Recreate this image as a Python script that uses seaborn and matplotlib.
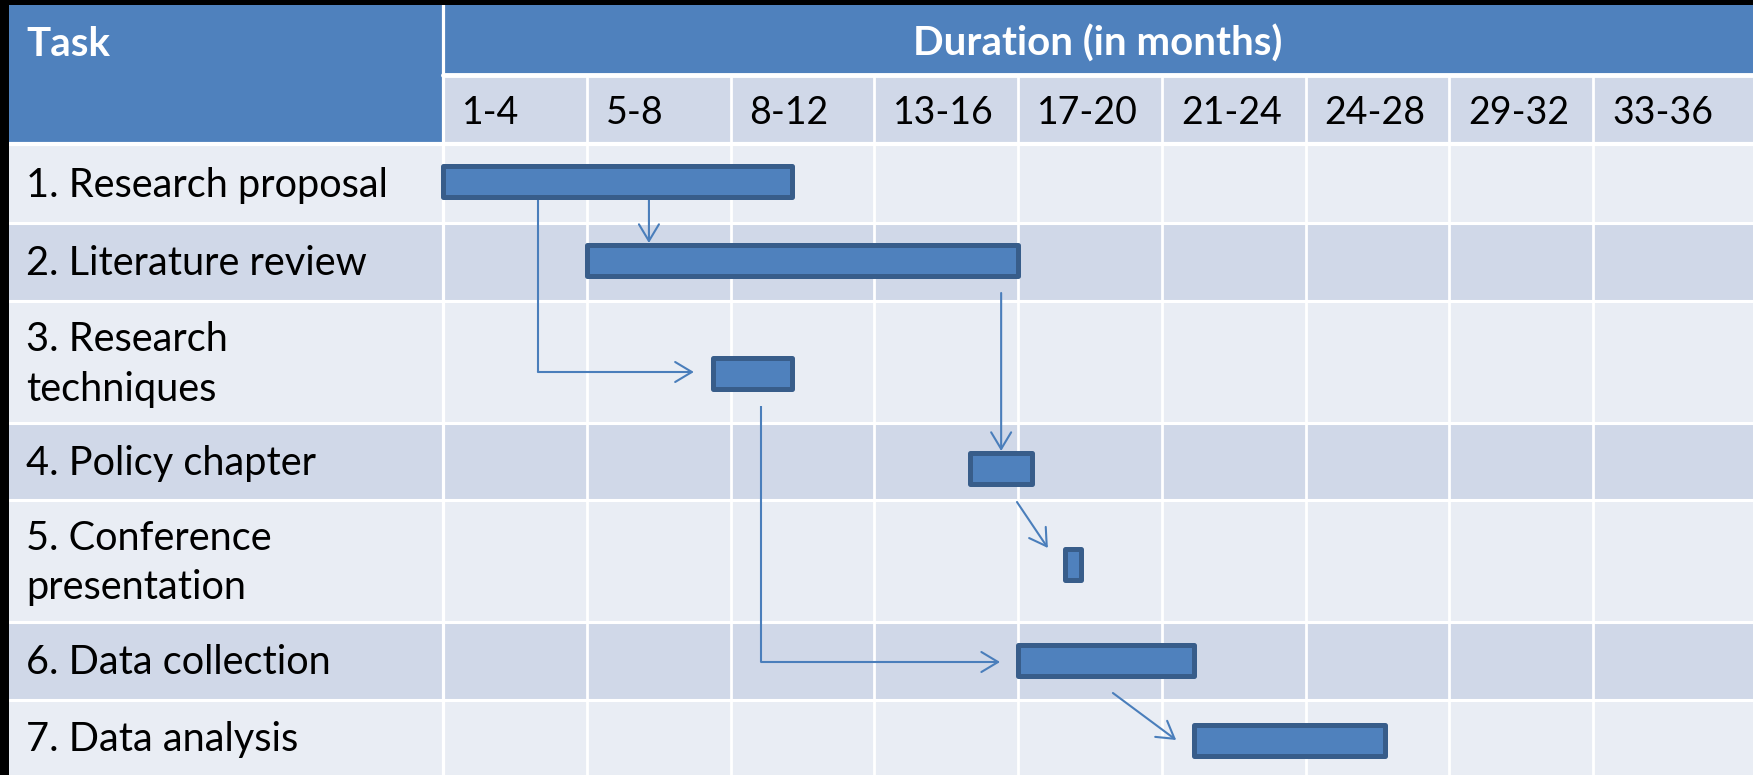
import numpy as np
import pandas as pd
import matplotlib
matplotlib.use("Agg")
import matplotlib.pyplot as plt
import seaborn as sns
from matplotlib.patches import Rectangle

# ---- chart content -------------------------------------------------------
tasks = [
    "1. Research proposal",
    "2. Literature review",
    "3. Research\ntechniques",
    "4. Policy chapter",
    "5. Conference\npresentation",
    "6. Data collection",
    "7. Data analysis",
]
start_month = [0.0, 4.0, 7.5, 14.65, 17.3, 16.0, 20.9]
end_month = [9.7, 16.0, 9.7, 16.4, 17.75, 20.9, 26.2]
period_labels = ["1-4", "5-8", "8-12", "13-16", "17-20", "21-24", "24-28", "29-32", "33-36"]
period_edges = [0, 4, 8, 12, 16, 20, 24, 28, 32]
header_task = "Task"
header_duration = "Duration (in months)"

# dependency connectors: (month, vertical position) vertices, last one is the tip
connectors = [
    [(5.73, 198), (5.73, 243)],
    [(2.64, 198), (2.64, 372), (6.98, 372)],
    [(15.53, 293), (15.53, 451)],
    [(15.97, 502), (16.83, 548)],
    [(8.85, 406), (8.85, 662), (15.5, 662)],
    [(18.64, 693), (20.4, 740)],
]

# ---- styling / layout ----------------------------------------------------
W, H = 1753, 775
BLUE = "#4F81BD"
EDGE = "#385D8A"
ARROW = "#4A7EBB"
BAND_DARK = "#D0D8E8"
BAND_LIGHT = "#E9EDF4"

PX_PER_MONTH = 35.94
X0_PX = 443          # pixel column where month 0 begins
TABLE_LEFT = 9
TABLE_TOP = 4.5
HEADER_SPLIT = 75
BODY_TOP = 144
row_edges = [144, 223, 301, 423.5, 500, 622, 700, 775]
lane_offset = [-2, -2, 11, 7, 4, 0, 3]
BAR_H = 31

sns.set_theme(style="white")
plt.rcParams["font.family"] = ["Lato", "DejaVu Sans"]

fig = plt.figure(figsize=(W / 100, H / 100), dpi=100, facecolor="black")
ax = fig.add_axes([TABLE_LEFT / W, 0, 1 - TABLE_LEFT / W, 1 - TABLE_TOP / H])

xmin = (TABLE_LEFT - X0_PX) / PX_PER_MONTH
xmax = (W - X0_PX) / PX_PER_MONTH

def px_w(px):
    return px / PX_PER_MONTH

# background cells
ax.add_patch(Rectangle((xmin, TABLE_TOP), xmax - xmin, H - TABLE_TOP, color="white", zorder=0))
ax.add_patch(Rectangle((xmin, TABLE_TOP), -xmin, BODY_TOP - TABLE_TOP, color=BLUE, zorder=1))
ax.add_patch(Rectangle((0, TABLE_TOP), xmax, HEADER_SPLIT - TABLE_TOP, color=BLUE, zorder=1))
ax.add_patch(Rectangle((0, HEADER_SPLIT), xmax, BODY_TOP - HEADER_SPLIT, color=BAND_DARK, zorder=1))
for i in range(len(tasks)):
    top, bot = row_edges[i], row_edges[i + 1]
    ax.add_patch(Rectangle((xmin, top), xmax - xmin, bot - top,
                           color=BAND_LIGHT if i % 2 == 0 else BAND_DARK, zorder=1))

# white cell borders
ax.plot([0, 0], [TABLE_TOP, H], color="white", lw=2.3, zorder=2)
for e in period_edges[1:]:
    ax.plot([e, e], [HEADER_SPLIT, H], color="white", lw=2.0, zorder=2)
ax.plot([0, xmax], [HEADER_SPLIT, HEADER_SPLIT], color="white", lw=3.5, zorder=2)
ax.plot([xmin, xmax], [BODY_TOP, BODY_TOP], color="white", lw=3.0, zorder=2)
for y in row_edges[1:-1]:
    ax.plot([xmin, xmax], [y, y], color="white", lw=2.2, zorder=2)

# header texts
ax.text(xmin + px_w(17), 44, header_task, color="white", fontsize=29,
        fontweight="bold", ha="left", va="center", zorder=6)
ax.text(xmax / 2, 44, header_duration, color="white", fontsize=29,
        fontweight="bold", ha="center", va="center", zorder=6)
for e, lab in zip(period_edges, period_labels):
    ax.text(e + px_w(19), 113, lab, color="black", fontsize=27,
            ha="left", va="center", zorder=6)

# task labels
row_mid = [(row_edges[i] + row_edges[i + 1]) / 2 for i in range(len(tasks))]
for y, lab in zip(row_mid, tasks):
    ax.text(xmin + px_w(17), y + 2, lab, color="black", fontsize=28.6,
            ha="left", va="center", linespacing=1.42, zorder=6)

# dependency arrows
for pts in connectors:
    xs, ys = zip(*pts)
    if len(pts) > 2:
        ax.plot(xs[:-1], ys[:-1], color=ARROW, lw=1.5, zorder=4,
                solid_capstyle="butt", solid_joinstyle="miter")
    ax.annotate("", xy=pts[-1], xytext=pts[-2], zorder=4,
                arrowprops=dict(arrowstyle="->,head_length=0.6,head_width=0.36",
                                color=ARROW, lw=1.5, shrinkA=0, shrinkB=0,
                                mutation_scale=20))

# task bars
lane_y = [m + o for m, o in zip(row_mid, lane_offset)]
df = pd.DataFrame({
    "task": tasks,
    "lane": lane_y,
    "start": start_month,
    "duration": [e - s for s, e in zip(start_month, end_month)],
})
lane_gap = np.diff(np.sort(df["lane"].to_numpy())).min()
sns.barplot(data=df, x="duration", y="lane", orient="y", native_scale=True,
            left=df["start"].to_numpy(), width=BAR_H / lane_gap,
            color=BLUE, saturation=1, edgecolor=EDGE, linewidth=3.6,
            errorbar=None, ax=ax, zorder=5)
for p in ax.containers[0]:
    p.set_joinstyle("round")

ax.set_xlim(xmin, xmax)
ax.set_ylim(H, TABLE_TOP)
ax.set_xticks([])
ax.set_yticks([])
ax.set_xlabel("")
ax.set_ylabel("")
for s in ax.spines.values():
    s.set_visible(False)

fig.savefig("out.png", dpi=100, facecolor="black")
